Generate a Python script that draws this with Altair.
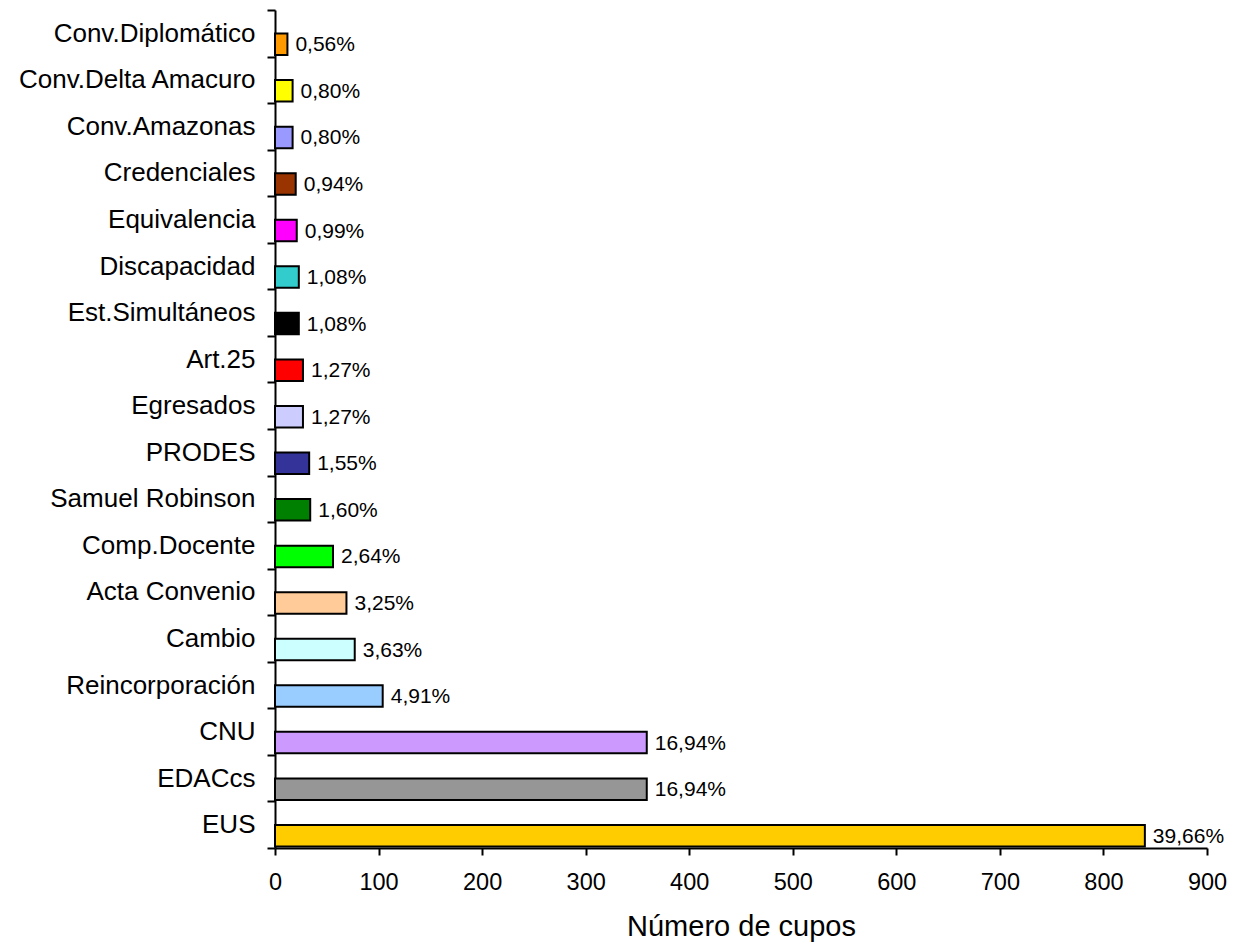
import altair as alt
import pandas as pd

categories = ["Conv.Diplomático", "Conv.Delta Amacuro", "Conv.Amazonas", "Credenciales",
              "Equivalencia", "Discapacidad", "Est.Simultáneos", "Art.25", "Egresados",
              "PRODES", "Samuel Robinson", "Comp.Docente", "Acta Convenio", "Cambio",
              "Reincorporación", "CNU", "EDACcs", "EUS"]
values = [12, 17, 17, 20, 21, 23, 23, 27, 27, 33, 34, 56, 69, 77, 104, 359, 359, 840]
percent_labels = ["0,56%", "0,80%", "0,80%", "0,94%", "0,99%", "1,08%", "1,08%", "1,27%",
                  "1,27%", "1,55%", "1,60%", "2,64%", "3,25%", "3,63%", "4,91%", "16,94%",
                  "16,94%", "39,66%"]
colors = ["#FF9900", "#FFFF00", "#9999FF", "#993300", "#FF00FF", "#33CCCC", "#000000",
          "#FF0000", "#CCCCFF", "#333399", "#008000", "#00FF00", "#FFCC99", "#CCFFFF",
          "#99CCFF", "#CC99FF", "#969696", "#FFCC00"]
x_ticks = [0, 100, 200, 300, 400, 500, 600, 700, 800, 900]

df = pd.DataFrame({"cat": categories, "value": values, "label": percent_labels})

FONT = "Liberation Sans"

y_enc = alt.Y(
    "cat:N",
    sort=categories,
    scale=alt.Scale(paddingInner=0, paddingOuter=0),
    axis=alt.Axis(
        title=None,
        tickBand="extent",
        tickSize=8,
        tickWidth=2,
        tickColor="black",
        domainColor="black",
        domainWidth=2,
        labelPadding=12,
        labelFontSize=26,
        labelColor="black",
        labelFont=FONT,
        labelLimit=0,
        grid=False,
    ),
)

x_enc = alt.X(
    "value:Q",
    scale=alt.Scale(domain=[0, 900], nice=False),
    axis=alt.Axis(
        values=x_ticks,
        title="Número de cupos",
        titleFontSize=29,
        titleFontWeight="normal",
        titleFont=FONT,
        titleColor="black",
        titleY=87,
        titleBaseline="alphabetic",
        labelFontSize=23.5,
        labelFont=FONT,
        labelColor="black",
        labelPadding=15,
        tickSize=7,
        tickWidth=2,
        tickColor="black",
        domainColor="black",
        domainWidth=2,
        grid=False,
        labelFlush=False,
    ),
)

bars = alt.Chart(df).mark_bar(
    height=21.5, yOffset=11, stroke="black", strokeWidth=2
).encode(
    x=x_enc,
    y=y_enc,
    color=alt.Color("cat:N", scale=alt.Scale(domain=categories, range=colors), legend=None),
)

texts = alt.Chart(df).mark_text(
    align="left", baseline="middle", dx=8, yOffset=12, fontSize=21, font=FONT, color="black"
).encode(
    x=alt.X("value:Q"),
    y=alt.Y("cat:N", sort=categories),
    text="label:N",
)

chart = alt.layer(bars, texts).properties(
    width=932,
    height=838,
    autosize=alt.AutoSizeParams(type="none"),
    padding={"left": 267, "top": 2, "right": 24, "bottom": 96},
    background="white",
).configure_view(stroke=None)

chart.save("out.html", embed_options={"renderer": "svg", "actions": False})
